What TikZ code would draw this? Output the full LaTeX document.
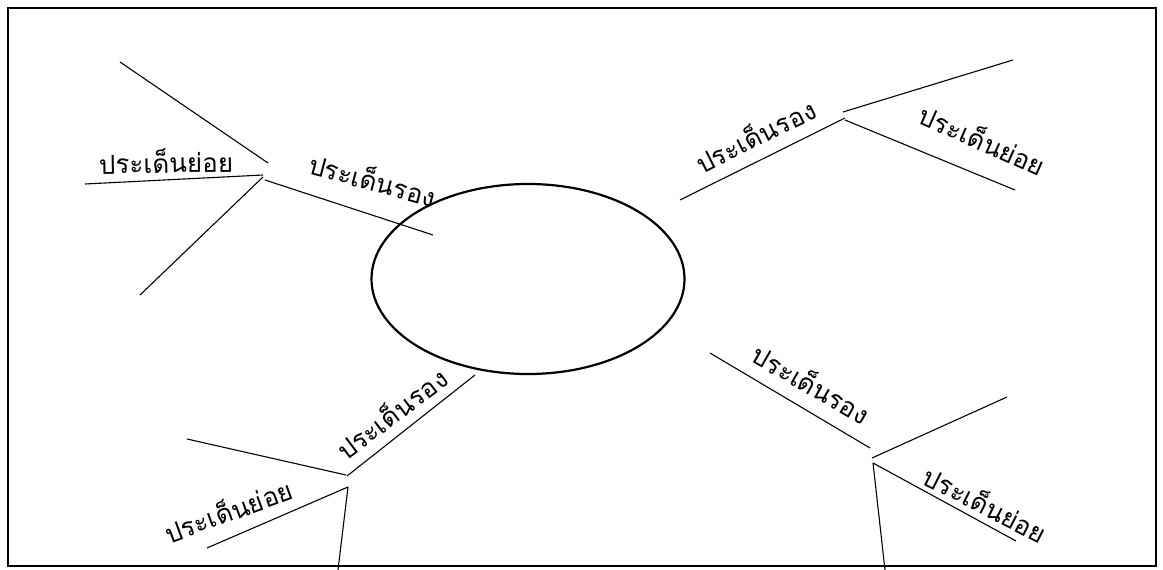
\documentclass[tikz,border=0pt]{standalone}
\usepackage{fontspec}
\newfontfamily\thaifont[Script=Thai]{Loma}
\usetikzlibrary{shapes.geometric}
\begin{document}
\begin{tikzpicture}[x=1pt,y=-1pt,
  branch/.style={line width=1.1pt},
  lbl/.style={font=\thaifont\fontsize{26}{30}\selectfont, inner sep=0pt}]
\useasboundingbox (0,0) rectangle (1163,570);
\node[draw, rectangle, line width=1.8pt, minimum width=1148pt, minimum height=558pt, inner sep=0pt, anchor=north west] (frame) at (7,7) {};
\node[draw, ellipse, line width=2.2pt, minimum width=313pt, minimum height=190pt, inner sep=0pt] (hub) at (528,279) {};
% top left
\coordinate (tlA) at (120,62);  \coordinate (tlB) at (268,163);
\coordinate (tlC) at (85,184);  \coordinate (tlD) at (263,175);
\coordinate (tlE) at (140,295); \coordinate (tlF) at (263,177);
\coordinate (tlG) at (265,180); \coordinate (tlH) at (433,235);
\draw[branch] (tlA) -- (tlB);
\draw[branch] (tlC) -- (tlD);
\draw[branch] (tlE) -- (tlF);
\draw[branch] (tlG) -- (tlH);
\node[lbl, rotate=1] (tlSub) at (166,161) {ประเด็นย่อย};
\node[lbl, rotate=-15] (tlMain) at (373,179) {ประเด็นรอง};
% top right
\coordinate (trA) at (680,200); \coordinate (trB) at (845,118);
\coordinate (trC) at (843,112); \coordinate (trD) at (1013,60);
\coordinate (trE) at (845,120); \coordinate (trF) at (1015,190);
\draw[branch] (trA) -- (trB);
\draw[branch] (trC) -- (trD);
\draw[branch] (trE) -- (trF);
\node[lbl, rotate=26.5] (trMain) at (755,135) {ประเด็นรอง};
\node[lbl, rotate=-24] (trSub) at (983,139) {ประเด็นย่อย};
% bottom left
\coordinate (blA) at (475,375); \coordinate (blB) at (347,476);
\coordinate (blC) at (187,439); \coordinate (blD) at (346,475);
\coordinate (blE) at (348,487); \coordinate (blF) at (207,548);
\coordinate (blH) at (338,570);
\draw[branch] (blB) -- (blA);
\draw[branch] (blC) -- (blD);
\draw[branch] (blF) -- (blE);
\draw[branch] (blE) -- (blH);
\node[lbl, rotate=37] (blMain) at (391,413) {ประเด็นรอง};
\node[lbl, rotate=20] (blSub) at (228,510) {ประเด็นย่อย};
% bottom right
\coordinate (brA) at (710,353); \coordinate (brB) at (870,448);
\coordinate (brC) at (872,458); \coordinate (brD) at (1007,397);
\coordinate (brE) at (873,463); \coordinate (brF) at (1016,541);
\coordinate (brH) at (885,570);
\draw[branch] (brA) -- (brB);
\draw[branch] (brC) -- (brD);
\draw[branch] (brE) -- (brF);
\draw[branch] (brE) -- (brH);
\node[lbl, rotate=-30] (brMain) at (812,383) {ประเด็นรอง};
\node[lbl, rotate=-27] (brSub) at (986,503) {ประเด็นย่อย};
\end{tikzpicture}
\end{document}
